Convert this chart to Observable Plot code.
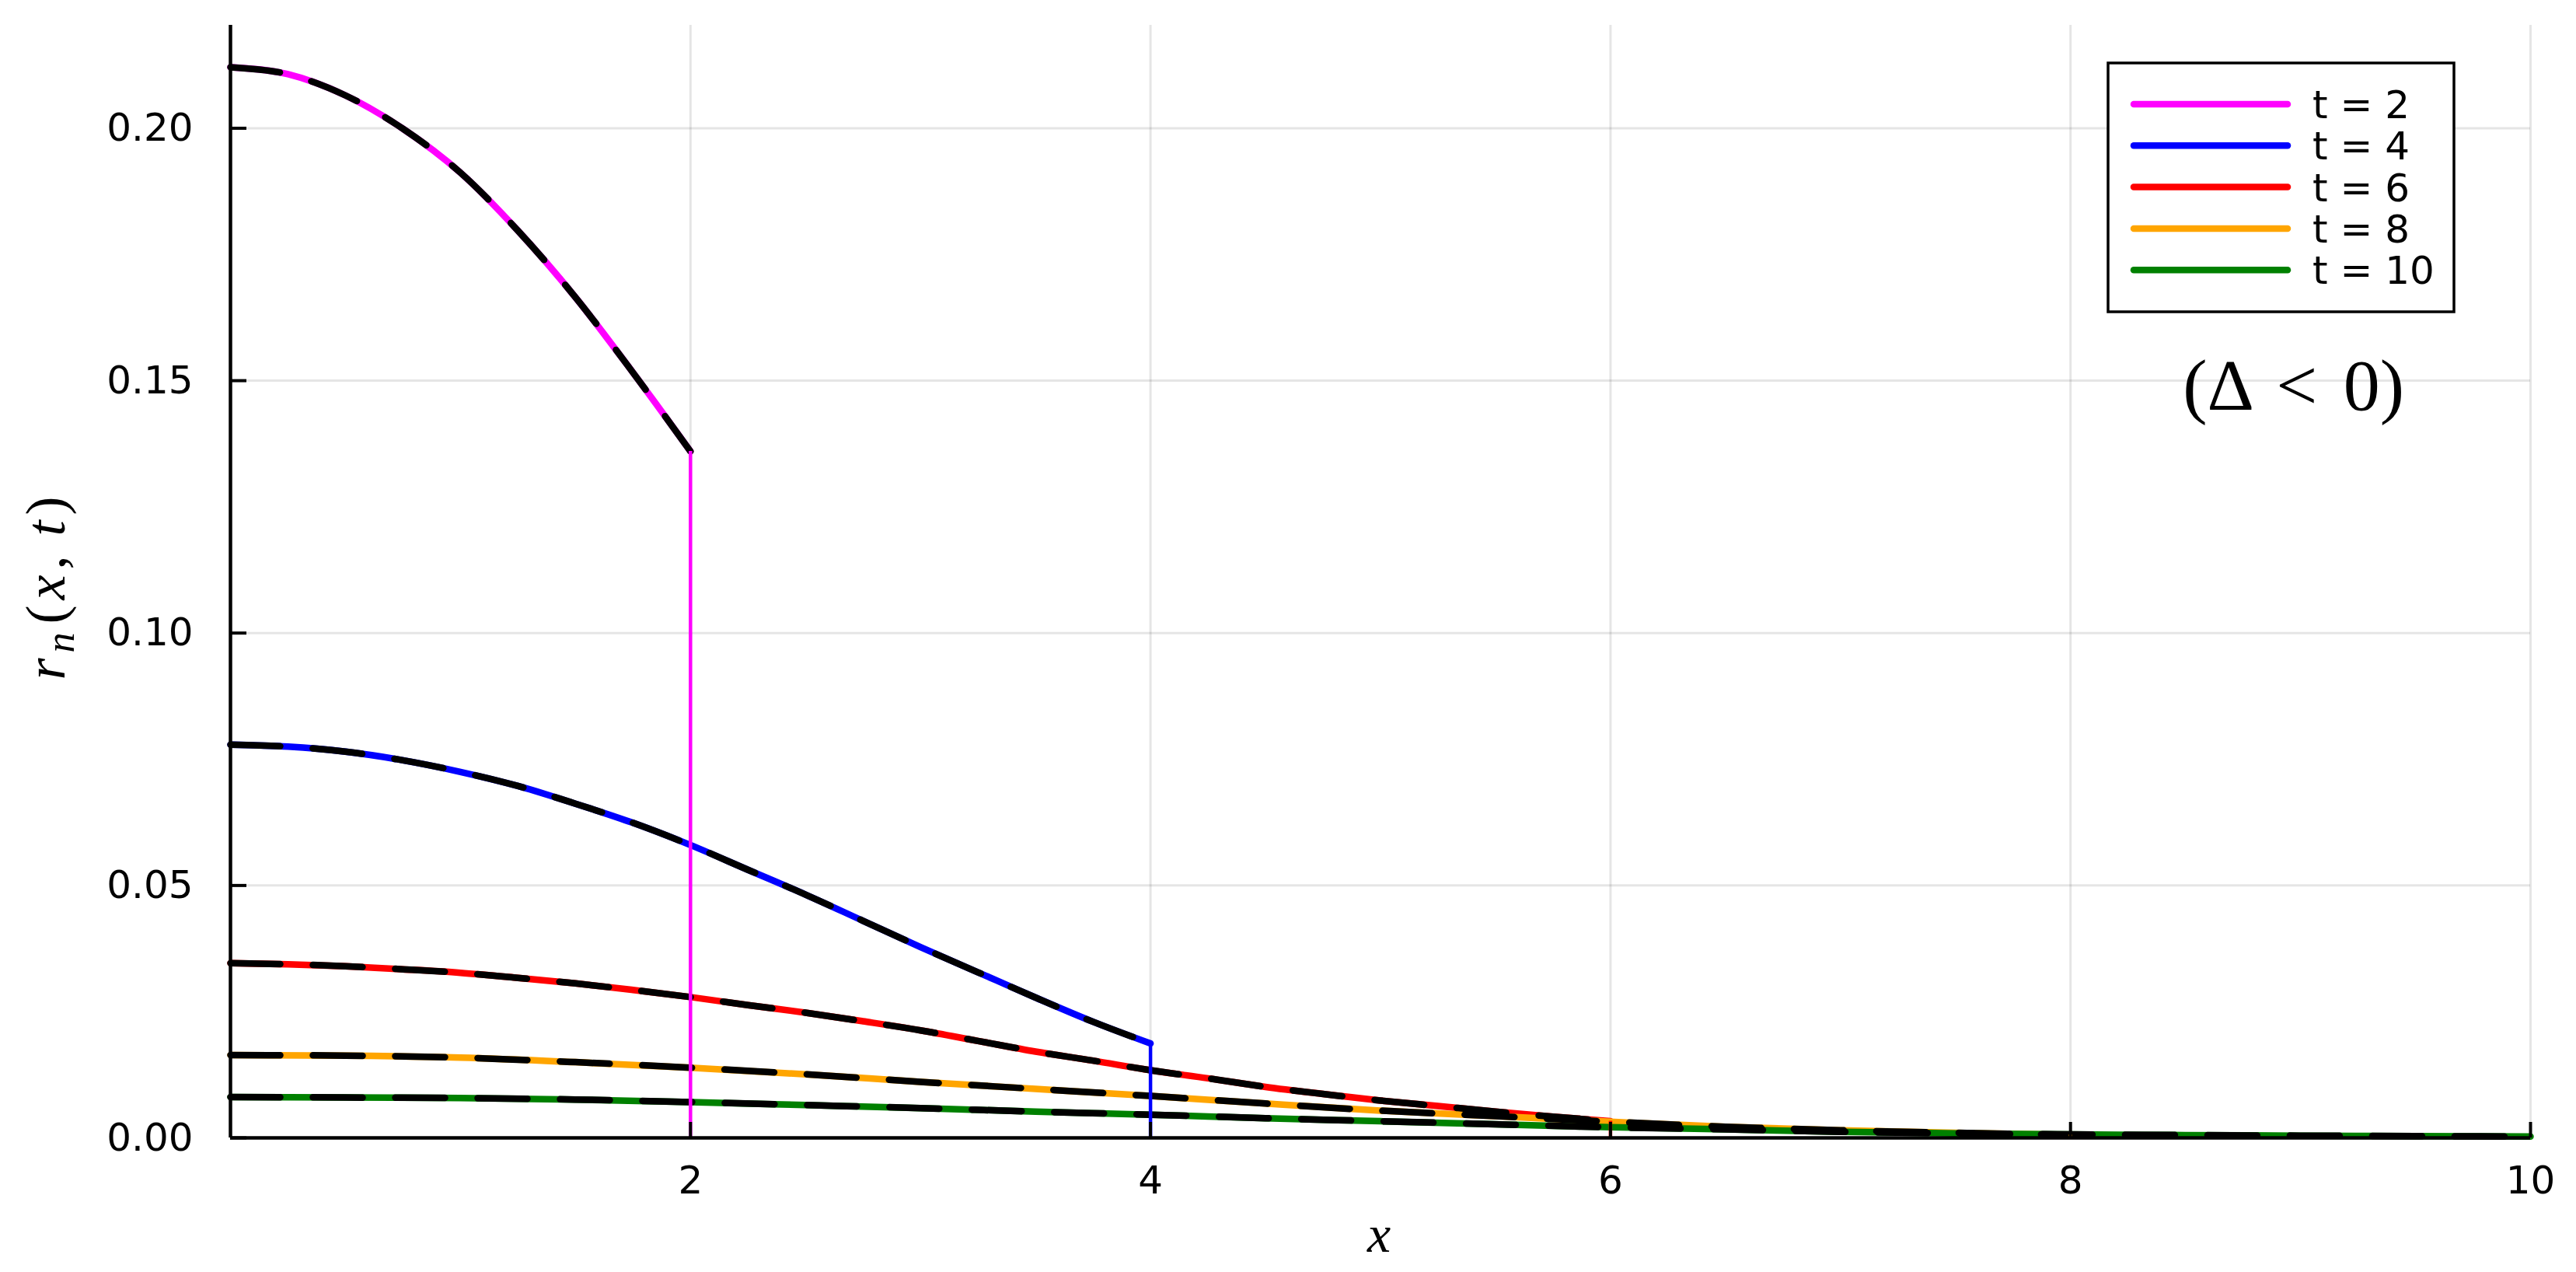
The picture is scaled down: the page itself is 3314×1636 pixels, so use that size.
<!DOCTYPE html>
<html><head><meta charset="utf-8">
<script src="https://cdn.jsdelivr.net/npm/d3@7"></script>
<script src="https://cdn.jsdelivr.net/npm/@observablehq/plot@0.6"></script>
<style>
html,body{margin:0;padding:0;background:#fff;}
#chart{position:relative;width:3314px;height:1636px;}
</style>
</head><body><div id="chart"></div>
<script>
// ---- data ----
const seriesNames  = ["t = 2", "t = 4", "t = 6", "t = 8", "t = 10"];
const seriesT      = [2, 4, 6, 8, 10];
const seriesColors = ["#ff00ff", "#0000ff", "#ff0000", "#ffa500", "#008000"];

const x_t2 = [0, 0.25, 0.5, 0.75, 1, 1.25, 1.5, 1.75, 2];
const r_t2 = [0.2121, 0.2107, 0.2065, 0.1999, 0.1912, 0.1797, 0.1665, 0.1516, 0.1360];

const x_t4 = [0, 0.25, 0.5, 0.75, 1, 1.25, 1.5, 1.75, 2, 2.25, 2.5, 2.75, 3, 3.25, 3.5, 3.75, 4];
const r_t4 = [0.0779, 0.0775, 0.0765, 0.0748, 0.0725, 0.0697, 0.0662, 0.0624, 0.0580, 0.0531, 0.0482, 0.0430, 0.0378, 0.0328, 0.0278, 0.0230, 0.0187];

const x_t6 = [0, 0.25, 0.5, 0.75, 1, 1.25, 1.5, 1.75, 2, 2.25, 2.5, 2.75, 3, 3.25, 3.5, 3.75, 4, 4.25, 4.5, 4.75, 5, 5.25, 5.5, 5.75, 6];
const r_t6 = [0.0346, 0.0344, 0.0340, 0.0334, 0.0327, 0.0317, 0.0306, 0.0293, 0.0279, 0.0263, 0.0248, 0.0231, 0.0213, 0.0192, 0.0171, 0.0153, 0.0134, 0.0118, 0.0101, 0.0087, 0.0074, 0.0063, 0.0052, 0.0042, 0.0033];

const x_t8 = [0, 0.5, 1, 1.5, 2, 2.5, 3, 3.5, 4, 4.5, 5, 5.5, 6, 6.5, 7, 7.5, 8];
const r_t8 = [0.0164, 0.0163, 0.0159, 0.0150, 0.0139, 0.0126, 0.0111, 0.0097, 0.0083, 0.0068, 0.0054, 0.0043, 0.0032, 0.0022, 0.0015, 0.0010, 0.0006];

const x_t10 = [0, 0.5, 1, 1.5, 2, 2.5, 3, 3.5, 4, 4.5, 5, 5.5, 6, 6.5, 7, 7.5, 8, 8.5, 9, 9.5, 10];
const r_t10 = [0.0081, 0.0080, 0.0079, 0.0076, 0.0071, 0.0065, 0.0059, 0.0052, 0.0046, 0.0039, 0.0033, 0.0027, 0.0021, 0.0017, 0.0012, 0.0009, 0.00068, 0.00055, 0.00044, 0.00034, 0.00026];

const xTicks = [2, 4, 6, 8, 10];
const yTicks = [0.00, 0.05, 0.10, 0.15, 0.20];
const xDomain = [0, 10];
const yDomain = [0, 0.2204];

const annotations = [{x: 8.97, y: 0.1443, label: "(Δ < 0)"}];

// ---- build table ----
const xsAll = [x_t2, x_t4, x_t6, x_t8, x_t10];
const rsAll = [r_t2, r_t4, r_t6, r_t8, r_t10];
const rows = [];
const ends = [];
seriesNames.forEach((name, i) => {
  xsAll[i].forEach((x, j) => rows.push({series: name, x, r: rsAll[i][j]}));
  ends.push({series: name, t: seriesT[i], r: rsAll[i][rsAll[i].length - 1]});
});

const W = 3314, H = 1636;
const mL = 296, mT = 32, mR = 59, mB = 173;

const chart = Plot.plot({
  width: W, height: H,
  marginLeft: mL, marginTop: mT, marginRight: mR, marginBottom: mB,
  style: {background: "#fff", fontFamily: "'DejaVu Sans', sans-serif", fontSize: "50px", overflow: "visible"},
  x: {domain: xDomain},
  y: {domain: yDomain},
  color: {domain: seriesNames, range: seriesColors},
  marks: [
    Plot.gridX(xTicks, {stroke: "#000", strokeOpacity: 0.1, strokeWidth: 3}),
    Plot.gridY(yTicks.filter(d => d > 0), {stroke: "#000", strokeOpacity: 0.1, strokeWidth: 3}),
    Plot.line(rows, {x: "x", y: "r", z: "series", stroke: "series", strokeWidth: 8.5, curve: "monotone-x"}),
    Plot.line(rows, {x: "x", y: "r", z: "series", stroke: "#000", strokeWidth: 8.5, curve: "monotone-x",
      strokeDasharray: "64,42", strokeLinecap: "round"}),
    Plot.ruleX(ends, {x: "t", y1: 0, y2: "r", stroke: "series", strokeWidth: 4.5}),
    Plot.axisY({ticks: yTicks, tickSize: -21, tickPadding: 69, tickFormat: d3.format(".2f"),
      strokeWidth: 4, fontSize: 50, label: null}),
    Plot.axisX({ticks: xTicks, tickSize: -20, tickPadding: 56, tickFormat: d3.format("d"),
      strokeWidth: 4, fontSize: 50, label: null}),
    Plot.ruleX([xDomain[0]], {stroke: "#000", strokeWidth: 4.5}),
    Plot.ruleY([yDomain[0]], {stroke: "#000", strokeWidth: 4.5}),
    Plot.text(annotations, {x: "x", y: "y", text: "label", textAnchor: "middle", lineAnchor: "bottom",
      fontFamily: "'Liberation Serif', serif", fontSize: 94, fill: "#000"})
  ]
});
document.getElementById("chart").appendChild(chart);

// widen the spaces of the annotation like math spacing
d3.select(chart).selectAll("text").filter(function() { return this.textContent === "(Δ < 0)"; })
  .style("word-spacing", "10px");

// ---- axis labels and legend, added to the same SVG ----
const svg = d3.select(chart);

// x label
svg.append("text")
  .attr("x", 1774).attr("y", 1610)
  .attr("text-anchor", "middle")
  .style("font-family", "'Liberation Serif', serif")
  .style("font-style", "italic")
  .style("font-size", "68px")
  .text("x");

// y label r_n(x, t)
const yl = svg.append("text")
  .attr("transform", "translate(83,753) rotate(-90)")
  .attr("text-anchor", "middle")
  .style("font-family", "'Liberation Serif', serif")
  .style("font-size", "72px")
  .style("letter-spacing", "7px");
yl.append("tspan").style("font-style", "italic").text("r");
yl.append("tspan").style("font-style", "italic").style("font-size", "52px").attr("dy", 12).text("n");
yl.append("tspan").attr("dy", -12).attr("dx", 4).text("(");
yl.append("tspan").style("font-style", "italic").text("x");
yl.append("tspan").text(",");
yl.append("tspan").attr("dx", 18).style("font-style", "italic").text("t");
yl.append("tspan").text(")");

// legend
const lg = svg.append("g").attr("text-anchor", "start");
const lgX = 2712, lgY = 81, lgW = 445, lgH = 320, rowH = 53.3, row0 = 134;
lg.append("rect").attr("x", lgX).attr("y", lgY).attr("width", lgW).attr("height", lgH)
  .attr("fill", "#fff").attr("stroke", "#000").attr("stroke-width", 3.5);
seriesNames.forEach((name, i) => {
  const y = row0 + i * rowH;
  lg.append("line").attr("x1", 2745).attr("x2", 2943).attr("y1", y).attr("y2", y)
    .attr("stroke", seriesColors[i]).attr("stroke-width", 8.5).attr("stroke-linecap", "round");
  lg.append("text").attr("x", 2975).attr("y", y).attr("dy", "0.36em")
    .attr("text-anchor", "start")
    .style("font-family", "'DejaVu Sans', sans-serif").style("font-size", "50px")
    .text(name);
});
</script>
</body></html>
